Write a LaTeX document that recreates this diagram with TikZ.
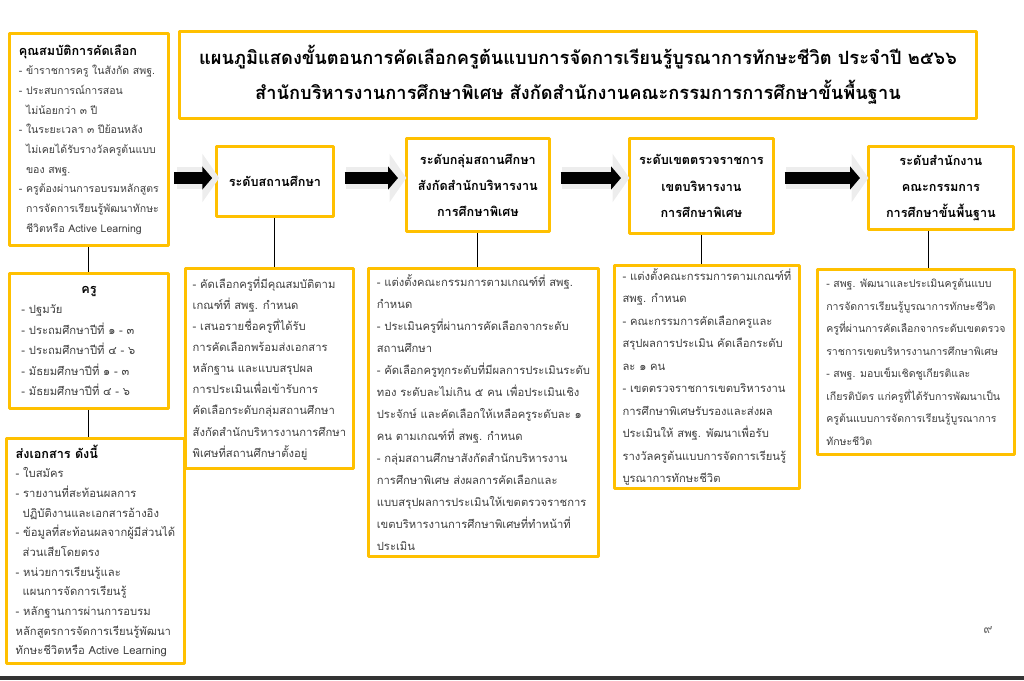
\documentclass[tikz,border=0pt]{standalone}
\usepackage{fontspec}
\setmainfont{Loma}[Script=Thai]
\usetikzlibrary{arrows.meta}
\definecolor{boxgold}{HTML}{FFC000}
\definecolor{bodygray}{HTML}{404040}
\tikzset{
  goldbox/.style={draw=boxgold, line width=2pt, fill=white, inner sep=2pt},
  titlebox/.style={goldbox, anchor=north west, align=center, font=\fontsize{13}{25}\selectfont\bfseries},
  levelbox/.style={goldbox, anchor=north west, align=center, font=\fontsize{9}{18.5}\selectfont\bfseries},
  infobox/.style={goldbox, anchor=north west, align=left, text=bodygray, font=\fontsize{8}{15}\selectfont},
  stepline/.style={draw, line width=0.8pt},
  blockarrow/.style={line width=8.5pt, shorten <=7pt, shorten >=5pt, -{Triangle[length=7pt,width=16pt]}},
  ghostarrow/.style={line width=16pt, black!7, shorten <=5pt, shorten >=2pt, -{Triangle[length=12pt,width=34pt]}}
}
\newcommand{\hd}[1]{{\color{black}\fontsize{9}{14}\selectfont\bfseries #1}}
\newcommand{\ind}{\hspace*{5pt}}
\begin{document}
\begin{tikzpicture}[x=0.025cm, y=-0.025cm, line join=round]
\useasboundingbox (0,0) rectangle (1024,680);
\fill[black!80] (0,676) rectangle (1024,680);
% left column
\node[infobox, font=\fontsize{7.5}{14}\selectfont, minimum width=3.975cm, minimum height=5.3cm] (qual) at (8,32) {\hd{คุณสมบัติการคัดเลือก}\\
- ข้าราชการครู ในสังกัด สพฐ.\\
- ประสบการณ์การสอน\\
\ind ไม่น้อยกว่า ๓ ปี\\
- ในระยะเวลา ๓ ปีย้อนหลัง\\
\ind ไม่เคยได้รับรางวัลครูต้นแบบ\\
\ind ของ สพฐ.\\
- ครูต้องผ่านการอบรมหลักสูตร\\
\ind การจัดการเรียนรู้พัฒนาทักษะ\\
\ind ชีวิตหรือ Active Learning};
\node[infobox, font=\fontsize{8}{14.5}\selectfont, inner xsep=0.3cm, text width=3.375cm, minimum height=3.375cm] (teacher) at (8,272) {\makebox[\hsize][c]{\hd{ครู}}\\
- ปฐมวัย\\
- ประถมศึกษาปีที่ ๑ - ๓\\
- ประถมศึกษาปีที่ ๔ - ๖\\
- มัธยมศึกษาปีที่ ๑ - ๓\\
- มัธยมศึกษาปีที่ ๔ - ๖};
\node[infobox, font=\fontsize{8}{14}\selectfont, minimum width=4.45cm, minimum height=5.625cm] (docs) at (5,437) {\hd{ส่งเอกสาร ดังนี้}\\
- ใบสมัคร\\
- รายงานที่สะท้อนผลการ\\
\ind ปฏิบัติงานและเอกสารอ้างอิง\\
- ข้อมูลที่สะท้อนผลจากผู้มีส่วนได้\\
\ind ส่วนเสียโดยตรง\\
- หน่วยการเรียนรู้และ\\
\ind แผนการจัดการเรียนรู้\\
- หลักฐานการผ่านการอบรม\\
หลักสูตรการจัดการเรียนรู้พัฒนา\\
ทักษะชีวิตหรือ Active Learning};
\draw[stepline] (qual.south) -- (teacher.north);
\draw[stepline] (teacher.south) -- (teacher.south |- docs.north);
% title
\node[titlebox, minimum width=19.925cm, minimum height=2.175cm] (title) at (178,30) {แผนภูมิแสดงขั้นตอนการคัดเลือกครูต้นแบบการจัดการเรียนรู้บูรณาการทักษะชีวิต ประจำปี ๒๕๖๖\\
สำนักบริหารงานการศึกษาพิเศษ สังกัดสำนักงานคณะกรรมการการศึกษาขั้นพื้นฐาน};
% levels
\node[levelbox, minimum width=2.925cm, minimum height=1.75cm] (lev1) at (215,145) {ระดับสถานศึกษา};
\node[levelbox, minimum width=3.575cm, minimum height=2.325cm] (lev2) at (405,137) {ระดับกลุ่มสถานศึกษา\\ สังกัดสำนักบริหารงาน\\ การศึกษาพิเศษ};
\node[levelbox, minimum width=3.6cm, minimum height=2.375cm] (lev3) at (628,137) {ระดับเขตตรวจราชการ\\ เขตบริหารงาน\\ การศึกษาพิเศษ};
\node[levelbox, minimum width=3.625cm, minimum height=2.075cm] (lev4) at (867,145) {ระดับสำนักงาน\\ คณะกรรมการ\\ การศึกษาขั้นพื้นฐาน};
\coordinate (ay) at (0,178);
% block arrows
\draw[ghostarrow, shorten <=2pt, shorten >=0pt] ([xshift=3]qual.east |- ay) -- ([xshift=3]lev1.west |- ay);
\draw[ghostarrow] ([xshift=3]lev1.east |- ay) -- ([xshift=3]lev2.west |- ay);
\draw[ghostarrow] ([xshift=3]lev2.east |- ay) -- ([xshift=3]lev3.west |- ay);
\draw[ghostarrow] ([xshift=3]lev3.east |- ay) -- ([xshift=3]lev4.west |- ay);
\draw[blockarrow, shorten <=3pt, shorten >=2pt] (qual.east |- ay) -- (lev1.west |- ay);
\draw[blockarrow] (lev1.east |- ay) -- (lev2.west |- ay);
\draw[blockarrow] (lev2.east |- ay) -- (lev3.west |- ay);
\draw[blockarrow] (lev3.east |- ay) -- (lev4.west |- ay);
% details
\node[infobox, minimum width=4.2cm, minimum height=5cm] (det1) at (184,267) {- คัดเลือกครูที่มีคุณสมบัติตาม\\
เกณฑ์ที่ สพฐ. กำหนด\\
- เสนอรายชื่อครูที่ได้รับ\\
การคัดเลือกพร้อมส่งเอกสาร\\
หลักฐาน และแบบสรุปผล\\
การประเมินเพื่อเข้ารับการ\\
คัดเลือกระดับกลุ่มสถานศึกษา\\
สังกัดสำนักบริหารงานการศึกษา\\
พิเศษที่สถานศึกษาตั้งอยู่};
\node[infobox, font=\fontsize{8}{15.6}\selectfont, minimum width=5.75cm, minimum height=7.2cm] (det2) at (367,267) {- แต่งตั้งคณะกรรมการตามเกณฑ์ที่ สพฐ.\\
กำหนด\\
- ประเมินครูที่ผ่านการคัดเลือกจากระดับ\\
สถานศึกษา\\
- คัดเลือกครูทุกระดับที่มีผลการประเมินระดับ\\
ทอง ระดับละไม่เกิน ๕ คน เพื่อประเมินเชิง\\
ประจักษ์ และคัดเลือกให้เหลือครูระดับละ ๑\\
คน ตามเกณฑ์ที่ สพฐ. กำหนด\\
- กลุ่มสถานศึกษาสังกัดสำนักบริหารงาน\\
การศึกษาพิเศษ ส่งผลการคัดเลือกและ\\
แบบสรุปผลการประเมินให้เขตตรวจราชการ\\
เขตบริหารงานการศึกษาพิเศษที่ทำหน้าที่\\
ประเมิน};
\node[infobox, font=\fontsize{8}{16}\selectfont, minimum width=4.625cm, minimum height=5.525cm] (det3) at (613,264) {- แต่งตั้งคณะกรรมการตามเกณฑ์ที่\\
สพฐ. กำหนด\\
- คณะกรรมการคัดเลือกครูและ\\
สรุปผลการประเมิน คัดเลือกระดับ\\
ละ ๑ คน\\
- เขตตรวจราชการเขตบริหารงาน\\
การศึกษาพิเศษรับรองและส่งผล\\
ประเมินให้ สพฐ. พัฒนาเพื่อรับ\\
รางวัลครูต้นแบบการจัดการเรียนรู้\\
บูรณาการทักษะชีวิต};
\node[infobox, font=\fontsize{7.5}{16}\selectfont, minimum width=4.925cm, minimum height=4.625cm] (det4) at (816,268) {- สพฐ. พัฒนาและประเมินครูต้นแบบ\\
การจัดการเรียนรู้บูรณาการทักษะชีวิต\\
ครูที่ผ่านการคัดเลือกจากระดับเขตตรวจ\\
ราชการเขตบริหารงานการศึกษาพิเศษ\\
- สพฐ. มอบเข็มเชิดชูเกียรติและ\\
เกียรติบัตร แก่ครูที่ได้รับการพัฒนาเป็น\\
ครูต้นแบบการจัดการเรียนรู้บูรณาการ\\
ทักษะชีวิต};
\draw[stepline] (lev1.south) -- (lev1.south |- det1.north);
\draw[stepline] (lev2.south) -- (lev2.south |- det2.north);
\draw[stepline] (lev3.south) -- (lev3.south |- det3.north);
\draw[stepline] ([xshift=-9]lev4.south) -- ([xshift=-9]lev4.south |- det4.north);
\node[text=black!60, font=\fontsize{9}{11}\selectfont] (pagenum) at (988,630) {๙};
\end{tikzpicture}
\end{document}
